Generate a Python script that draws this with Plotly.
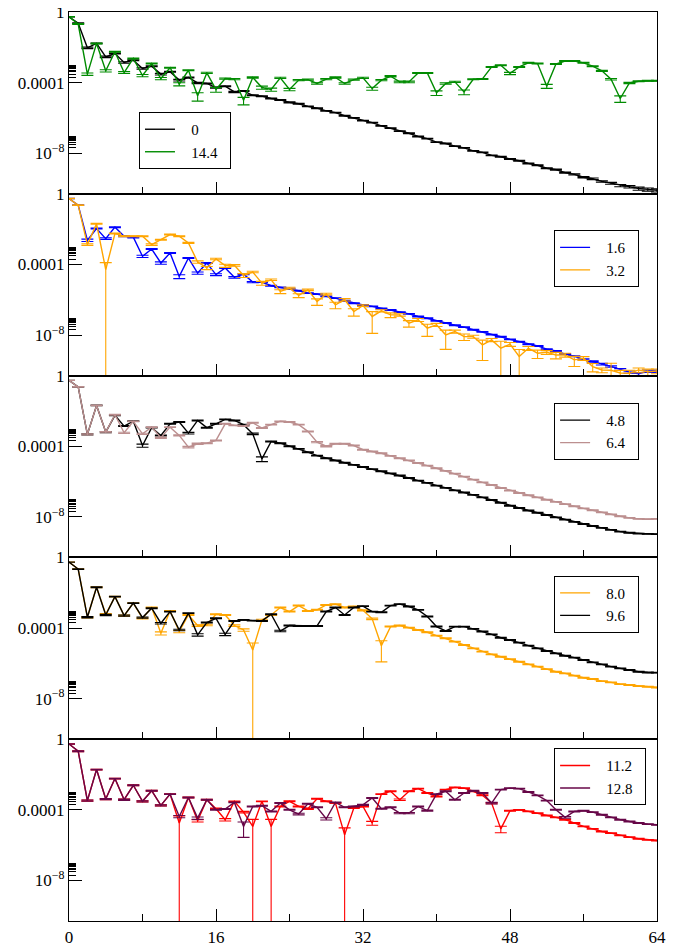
import plotly.graph_objects as go
from plotly.subplots import make_subplots

FONT = "Liberation Serif"

# ---------------- data (log10 of correlator) ----------------
r = list(range(65))
x_tickvals = [0, 16, 32, 48, 64]
y_tickvals = [1e-8, 1e-4, 1]
y_ticktext = ["10<sup>\u22128</sup>", "0.0001", "1"]
y_minorvals = [2e-8, 3e-8, 4e-8, 5e-8, 6e-8, 7e-8, 8e-8, 9e-8,
               2e-4, 3e-4, 4e-4, 5e-4, 6e-4, 7e-4, 8e-4, 9e-4]

log_c_0 = [
    -0.27, -0.64, -2.03, -1.78, -2.54, -2.35, -2.86, -2.73, -3.20, -3.07, -3.52, -3.39, -3.86,
    -3.71, -4.02, -4.05, -4.28, -4.20, -4.53, -4.47, -4.72, -4.77, -4.90, -4.98, -5.12, -5.20,
    -5.35, -5.45, -5.60, -5.70, -5.88, -6.00, -6.15, -6.27, -6.45, -6.58, -6.75, -6.87, -7.05,
    -7.17, -7.37, -7.45, -7.60, -7.70, -7.87, -7.95, -8.12, -8.20, -8.33, -8.43, -8.58, -8.68,
    -8.85, -8.93, -9.10, -9.20, -9.36, -9.45, -9.60, -9.70, -9.83, -9.90, -10.00, -10.05, -10.10]
rel_err_0 = [
    .02, .05, .10, .05, .10, .05, .10, .05, .10, .06, .10, .06, .10,
    .06, .08, .06, .08, .06, .08, .06, .06, .06, .06, .06, .06, .06,
    .05, .05, .05, .05, .05, .05, .05, .05, .05, .05, .05, .05, .05,
    .05, .05, .05, .05, .05, .05, .05, .05, .05, .05, .05, .05, .05,
    .06, .06, .06, .08, .08, .10, .10, .12, .15, .15, .20, .20, .20]

log_c_14_4 = [
    -0.27, -0.68, -3.52, -1.78, -3.33, -2.25, -3.43, -2.63, -3.60, -2.92, -3.77, -3.16, -4.09,
    -3.30, -4.75, -3.45, -4.39, -3.77, -3.80, -5.00, -3.71, -4.28, -4.39, -3.73, -4.39, -3.86,
    -3.83, -4.05, -3.80, -3.71, -4.05, -3.83, -3.73, -4.34, -3.86, -3.64, -3.96, -3.96, -3.45,
    -3.45, -4.58, -4.05, -3.96, -4.53, -3.81, -3.79, -3.11, -3.01, -3.48, -3.11, -2.88, -2.92,
    -4.20, -2.95, -2.78, -2.78, -2.88, -3.07, -3.33, -3.81, -4.90, -4.02, -3.92, -3.90, -3.90]
rel_err_14_4 = [
    .02, .05, .15, .06, .15, .06, .12, .06, .15, .06, .15, .06, .20,
    .06, .50, .08, .30, .08, .08, .45, .08, .20, .20, .08, .15, .08,
    .08, .10, .08, .08, .10, .08, .08, .20, .08, .08, .10, .10, .06,
    .06, .30, .10, .08, .30, .06, .06, .06, .06, .15, .06, .06, .06,
    .25, .06, .06, .06, .06, .06, .08, .10, .40, .08, .06, .06, .06]

log_c_1_6 = [
    -0.27, -0.64, -2.63, -1.97, -2.54, -1.89, -2.40, -2.46, -3.54, -3.13, -3.92, -3.35, -4.68,
    -3.64, -4.49, -3.92, -4.58, -4.20, -4.73, -4.55, -5.00, -5.00, -5.21, -5.30, -5.38, -5.49,
    -5.63, -5.68, -5.81, -5.91, -6.06, -6.20, -6.30, -6.38, -6.50, -6.58, -6.70, -6.80, -6.95,
    -7.05, -7.20, -7.32, -7.45, -7.55, -7.70, -7.82, -7.98, -8.10, -8.25, -8.38, -8.52, -8.62,
    -8.80, -8.90, -9.08, -9.20, -9.38, -9.50, -9.65, -9.78, -9.95, -10.10, -10.20, -10.05, -10.05]
rel_err_1_6 = [
    .02, .05, .15, .06, .10, .06, .08, .08, .15, .06, .15, .06, .25,
    .06, .15, .06, .12, .06, .10, .06, .08, .06, .06, .05, .05, .05,
    .05, .05, .05, .05, .05, .05, .05, .05, .05, .05, .05, .05, .05,
    .05, .05, .05, .05, .05, .05, .05, .05, .05, .05, .05, .05, .05,
    .05, .06, .06, .06, .08, .08, .10, .10, .12, .15, .20, .15, .15]

log_c_3_2 = [
    -0.27, -0.64, -2.88, -1.70, -4.30, -2.25, -2.40, -2.40, -2.40, -2.88, -2.60, -2.31, -2.40,
    -2.78, -3.86, -4.20, -3.69, -4.07, -4.05, -4.62, -4.43, -5.06, -4.87, -5.53, -5.34, -5.76,
    -5.44, -6.10, -5.68, -6.29, -6.00, -6.67, -6.33, -6.95, -6.63, -6.86, -6.86, -7.33, -7.14,
    -7.61, -7.42, -7.99, -7.80, -8.09, -8.09, -8.56, -8.28, -8.75, -8.52, -9.22, -8.75, -9.03,
    -8.98, -9.13, -9.13, -9.41, -9.32, -9.79, -9.98, -10.00, -10.15, -10.17, -9.98, -10.08, -10.04]
rel_err_3_2 = [
    .02, .05, .10, .06, 1.5, .06, .06, .06, .06, .10, .06, .06, .06,
    .06, .15, .20, .10, .20, .10, .25, .10, .25, .10, .25, .10, .25,
    .10, .40, .10, .40, .15, .45, .10, .89, .15, .30, .15, .40, .20,
    .66, .20, .85, .20, .40, .20, .87, .20, 1.5, .25, 1.5, .25, .50,
    .25, .40, .25, .58, .25, .50, .30, 1.5, .40, .50, .30, .40, .30]

log_c_4_8 = [
    -0.27, -0.64, -3.33, -1.69, -3.20, -2.25, -2.86, -2.58, -3.96, -2.95, -3.39, -2.73, -2.63,
    -3.26, -2.54, -2.95, -2.73, -2.48, -2.54, -2.78, -3.30, -4.72, -3.73, -3.83, -4.00, -4.15,
    -4.34, -4.53, -4.68, -4.81, -4.94, -5.06, -5.18, -5.30, -5.42, -5.54, -5.66, -5.80, -5.95,
    -6.08, -6.23, -6.36, -6.50, -6.62, -6.76, -6.90, -7.05, -7.20, -7.37, -7.50, -7.64, -7.77,
    -7.90, -8.03, -8.16, -8.29, -8.41, -8.52, -8.63, -8.74, -8.84, -8.90, -8.95, -8.97, -8.98]
rel_err_4_8 = [
    .02, .05, .08, .05, .08, .05, .06, .05, .20, .05, .06, .05, .05,
    .10, .05, .06, .05, .05, .05, .06, .10, .30, .05, .05, .05, .05,
    .05, .05, .05, .05, .05, .05, .05, .05, .05, .05, .05, .05, .05,
    .05, .05, .05, .05, .05, .05, .05, .05, .05, .05, .05, .05, .05,
    .05, .05, .05, .05, .05, .05, .05, .05, .05, .05, .05, .05, .05]

log_c_6_4 = [
    -0.27, -0.64, -3.33, -1.69, -3.20, -2.22, -3.24, -2.59, -3.30, -2.92, -3.52, -2.92, -3.39,
    -4.05, -3.86, -3.83, -3.67, -2.73, -2.82, -2.86, -2.67, -2.97, -2.78, -2.59, -2.63, -2.78,
    -3.16, -3.77, -4.00, -3.86, -3.86, -3.96, -4.20, -4.30, -4.40, -4.55, -4.68, -4.80, -4.95,
    -5.10, -5.25, -5.40, -5.55, -5.72, -5.89, -6.05, -6.20, -6.37, -6.52, -6.65, -6.78, -6.90,
    -7.03, -7.15, -7.28, -7.40, -7.52, -7.63, -7.75, -7.86, -7.97, -8.06, -8.12, -8.13, -8.12]
rel_err_6_4 = [
    .02, .05, .08, .05, .08, .05, .08, .05, .08, .05, .08, .05, .08,
    .10, .08, .06, .06, .05, .05, .05, .05, .05, .05, .05, .05, .05,
    .06, .08, .08, .06, .06, .06, .05, .05, .05, .05, .05, .05, .05,
    .05, .05, .05, .05, .05, .05, .05, .05, .05, .05, .05, .05, .05,
    .05, .05, .05, .05, .05, .05, .05, .05, .05, .05, .05, .05, .05]

log_c_8_0 = [
    -0.27, -0.66, -3.39, -1.69, -3.22, -2.22, -3.30, -2.59, -3.45, -2.84, -4.30, -3.03, -4.20,
    -3.26, -3.86, -3.83, -3.22, -3.26, -3.86, -4.11, -5.25, -3.54, -3.26, -2.84, -3.07, -2.73,
    -3.03, -2.97, -2.69, -2.65, -2.84, -2.78, -3.00, -3.48, -5.00, -3.92, -3.86, -3.98, -4.11,
    -4.24, -4.43, -4.58, -4.77, -4.96, -5.15, -5.34, -5.49, -5.63, -5.76, -5.91, -6.06, -6.19,
    -6.33, -6.48, -6.57, -6.70, -6.82, -6.89, -7.01, -7.08, -7.18, -7.23, -7.29, -7.33, -7.37]
rel_err_8_0 = [
    .02, .05, .08, .05, .08, .05, .08, .05, .08, .05, .20, .05, .15,
    .05, .10, .10, .06, .06, .10, .15, 1.5, .08, .06, .06, .06, .06,
    .06, .06, .06, .06, .06, .06, .06, .10, .88, .06, .05, .05, .05,
    .05, .05, .05, .05, .05, .05, .05, .05, .05, .05, .05, .05, .05,
    .05, .05, .05, .05, .05, .05, .05, .05, .05, .05, .05, .05, .05]

log_c_9_6 = [
    -0.27, -0.66, -3.39, -1.69, -3.26, -2.22, -3.30, -2.59, -3.41, -2.88, -3.73, -3.07, -4.11,
    -3.16, -4.39, -3.69, -3.45, -4.36, -3.60, -3.54, -3.58, -3.60, -3.22, -4.17, -3.86, -3.88,
    -3.88, -3.88, -3.07, -2.84, -3.26, -2.84, -2.76, -3.07, -3.11, -2.73, -2.65, -2.78, -2.97,
    -3.35, -3.92, -4.17, -3.92, -3.92, -4.05, -4.20, -4.36, -4.55, -4.68, -4.83, -5.00, -5.15,
    -5.30, -5.44, -5.57, -5.68, -5.81, -5.95, -6.06, -6.19, -6.29, -6.38, -6.48, -6.52, -6.53]
rel_err_9_6 = [
    .02, .05, .08, .05, .08, .05, .08, .05, .08, .05, .10, .05, .10,
    .05, .15, .06, .05, .15, .05, .05, .05, .05, .05, .10, .06, .06,
    .06, .06, .06, .05, .06, .05, .05, .05, .05, .05, .05, .05, .05,
    .06, .06, .06, .05, .05, .05, .05, .05, .05, .05, .05, .05, .05,
    .05, .05, .05, .05, .05, .05, .05, .05, .05, .05, .05, .05, .05]

log_c_11_2 = [
    -0.27, -0.68, -3.48, -1.72, -3.39, -2.23, -3.43, -2.61, -3.52, -2.92, -3.75, -3.11, -4.75,
    -3.30, -4.62, -3.43, -3.94, -4.56, -3.52, -4.13, -4.94, -3.52, -4.94, -3.81, -3.52, -3.81,
    -3.94, -3.37, -3.52, -3.62, -5.42, -3.90, -3.81, -4.75, -3.11, -2.95, -3.43, -2.95, -2.80,
    -3.05, -3.24, -2.86, -2.73, -2.77, -2.95, -3.18, -3.62, -5.08, -4.05, -4.00, -4.09, -4.19,
    -4.32, -4.43, -4.56, -4.75, -4.94, -5.08, -5.23, -5.32, -5.45, -5.55, -5.64, -5.70, -5.74]
rel_err_11_2 = [
    .02, .05, .08, .05, .08, .05, .08, .05, .08, .05, .08, .05, 1.5,
    .05, .15, .05, .08, .15, .05, .10, 1.5, .05, 1.5, .06, .06, .06,
    .08, .05, .06, .06, 1.5, .06, .06, .25, .05, .05, .10, .05, .05,
    .05, .06, .05, .05, .05, .05, .06, .08, .40, .06, .05, .05, .05,
    .05, .05, .05, .05, .05, .05, .05, .05, .05, .05, .05, .05, .05]

log_c_12_8 = [
    -0.27, -0.68, -3.48, -1.72, -3.39, -2.23, -3.43, -2.61, -3.52, -2.92, -3.75, -3.11, -4.38,
    -3.30, -4.47, -3.43, -4.00, -3.96, -3.58, -4.94, -3.81, -3.77, -4.09, -3.62, -4.00, -4.24,
    -3.66, -3.86, -4.51, -3.58, -3.86, -3.81, -3.72, -3.33, -3.94, -3.86, -4.19, -4.19, -3.81,
    -4.05, -3.11, -2.95, -3.43, -3.05, -2.92, -3.05, -3.62, -2.86, -2.77, -2.80, -2.99, -3.18,
    -3.48, -4.00, -4.43, -4.09, -4.05, -4.13, -4.28, -4.43, -4.56, -4.66, -4.75, -4.81, -4.85]
rel_err_12_8 = [
    .02, .05, .08, .05, .08, .05, .08, .05, .08, .05, .08, .05, .15,
    .05, .15, .05, .06, .06, .05, .76, .06, .06, .06, .06, .06, .10,
    .06, .06, .15, .05, .06, .06, .06, .05, .06, .06, .08, .08, .06,
    .08, .05, .05, .06, .05, .05, .05, .10, .05, .05, .05, .05, .05,
    .05, .06, .10, .06, .06, .05, .05, .05, .05, .05, .05, .05, .05]

# (panel, legend label, colour, log10 values, relative errors)
series = [
    (1, "0", "#000000", log_c_0, rel_err_0),
    (1, "14.4", "#008b00", log_c_14_4, rel_err_14_4),
    (2, "1.6", "#0000ff", log_c_1_6, rel_err_1_6),
    (2, "3.2", "#ffa500", log_c_3_2, rel_err_3_2),
    (3, "4.8", "#000000", log_c_4_8, rel_err_4_8),
    (3, "6.4", "#bc8f8f", log_c_6_4, rel_err_6_4),
    (4, "8.0", "#ffa500", log_c_8_0, rel_err_8_0),
    (4, "9.6", "#000000", log_c_9_6, rel_err_9_6),
    (5, "11.2", "#ff0000", log_c_11_2, rel_err_11_2),
    (5, "12.8", "#670748", log_c_12_8, rel_err_12_8),
]

# legend placement (paper coords) per panel
legend_pos = {1: (0.119, 0.890), 2: (0.825, 0.760), 3: (0.825, 0.570),
              4: (0.825, 0.380), 5: (0.825, 0.190)}

fig = make_subplots(rows=5, cols=1, shared_xaxes=True, vertical_spacing=0)

for panel, label, color, logs, rels in series:
    y = [10 ** v for v in logs]
    err = [e * v for e, v in zip(rels, y)]
    lg = "legend" if panel == 1 else f"legend{panel}"
    fig.add_trace(go.Scatter(
        x=r, y=y, mode="lines", name="\u00a0\u00a0\u00a0" + label + "\u00a0\u00a0",
        line=dict(color=color, width=1.4),
        error_y=dict(type="data", array=err, visible=True, color=color,
                     thickness=1.1, width=6),
        legend=lg,
    ), row=panel, col=1)

axis_font = dict(family=FONT, size=17, color="black")
for i in range(1, 6):
    fig.update_yaxes(
        type="log", range=[-10.3, 0], automargin=False,
        ticklabeloverflow="allow",
        tickmode="array", tickvals=y_tickvals, ticktext=y_ticktext,
        ticks="inside", ticklen=13, tickwidth=1, tickcolor="black",
        minor=dict(tickmode="array", tickvals=y_minorvals, ticks="inside",
                   ticklen=7, tickwidth=1, tickcolor="black", showgrid=False),
        showline=True, linecolor="black", linewidth=1.2, mirror=True,
        showgrid=False, zeroline=False, tickfont=axis_font,
        row=i, col=1)
    fig.update_xaxes(
        range=[0, 64], automargin=False,
        ticklabeloverflow="allow",
        tickmode="array", tickvals=x_tickvals,
        ticks="inside", ticklen=12, tickwidth=1, tickcolor="black",
        minor=dict(dtick=8, tick0=0, ticks="inside", ticklen=7, tickwidth=1,
                   tickcolor="black", showgrid=False),
        showline=True, linecolor="black", linewidth=1.2, mirror=True,
        showgrid=False, zeroline=False, tickfont=axis_font,
        showticklabels=(i == 5),
        row=i, col=1)

legend_common = dict(xanchor="left", yanchor="top", bgcolor="white",
                     bordercolor="black", borderwidth=1,
                     font=dict(family=FONT, size=15, color="black"),
                     tracegroupgap=0, itemwidth=30)
layout_legends = {}
for p, (lx, ly) in legend_pos.items():
    key = "legend" if p == 1 else f"legend{p}"
    layout_legends[key] = dict(x=lx, y=ly, **legend_common)

# the page body adds an 8px offset, so the figure is sized to fit the window
fig.update_layout(
    width=671, height=939,
    margin=dict(l=61, r=22, t=4, b=26, autoexpand=False),
    paper_bgcolor="white", plot_bgcolor="white",
    showlegend=True,
    font=dict(family=FONT, size=17, color="black"),
    **layout_legends,
)

fig.add_annotation(text="<i>r</i>", x=34.5, xref="x5", y=0, yref="paper",
                   yanchor="top", yshift=-17, showarrow=False,
                   font=dict(family=FONT, size=17, color="black"))

fig.write_html("out.html")
